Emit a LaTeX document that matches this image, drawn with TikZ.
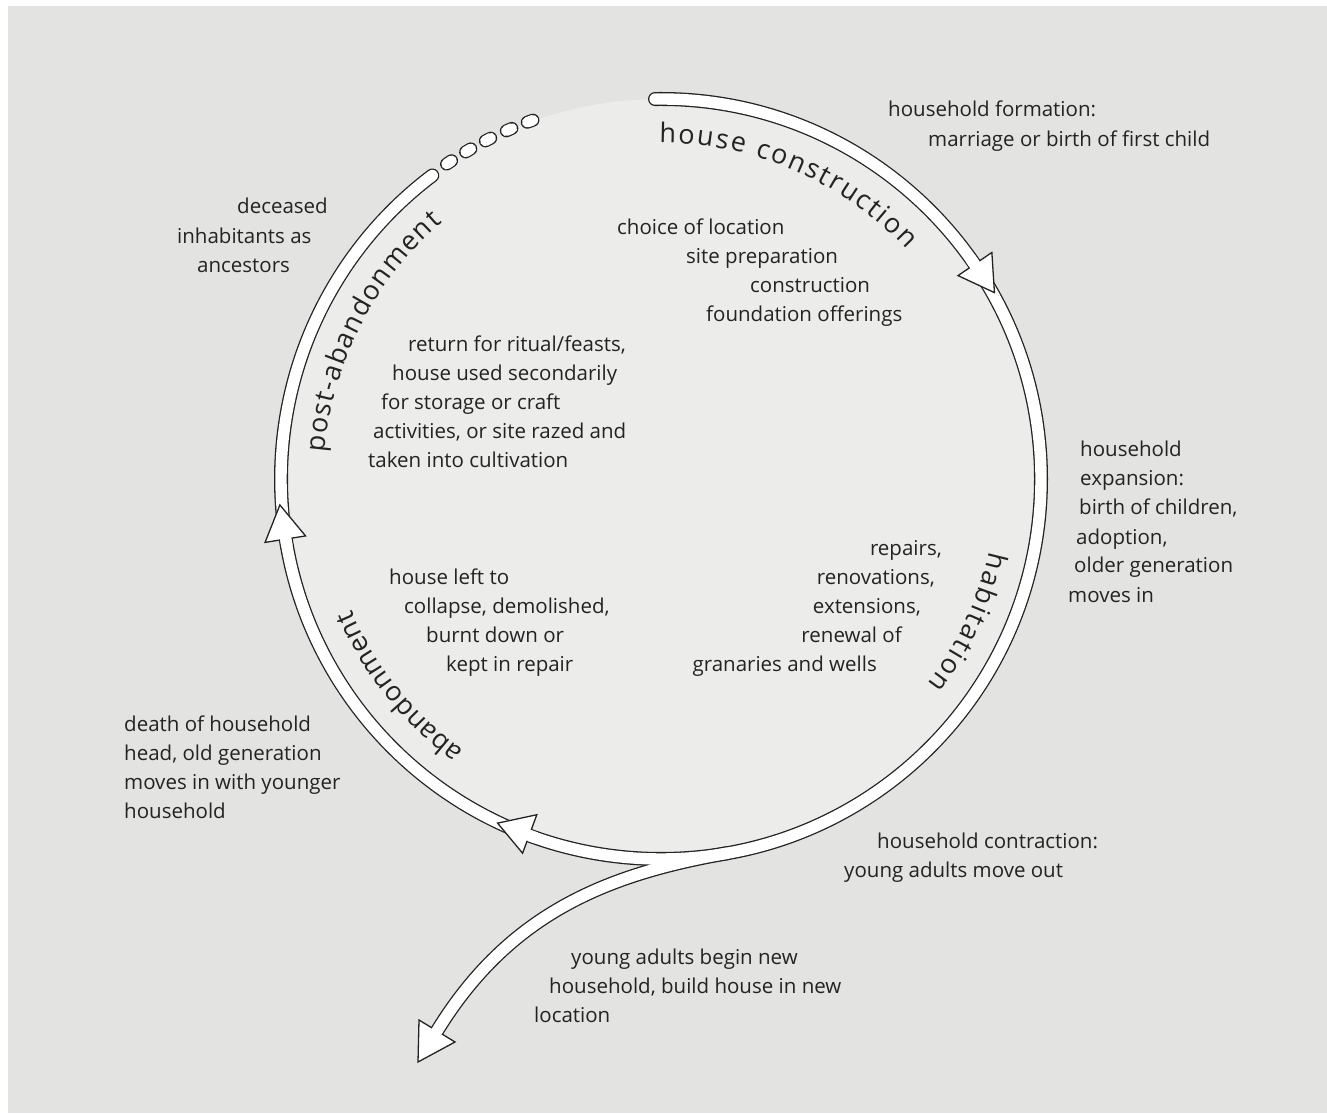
\documentclass[tikz,border=0pt]{standalone}
\usepackage{fontspec}
\setmainfont{Open Sans}
\usetikzlibrary{decorations.text}
\definecolor{bgc}{RGB}{227,227,225}
\definecolor{discc}{RGB}{236,236,235}
\definecolor{inkc}{RGB}{35,35,35}
\newcommand{\curvefont}{\fontsize{27}{27}\selectfont}
\begin{document}
\begin{tikzpicture}[x=1pt,y=1pt,
  lbl/.style={font=\fontsize{20.5}{24}\selectfont, inner sep=0pt, anchor=base west, text=inkc},
  lblr/.style={lbl, anchor=base east},
  bandout/.style={draw=inkc, line width=14pt, line cap=round},
  bandin/.style={draw=white, line width=11.4pt, line cap=round},
  bandpatch/.style={draw=white, line width=11.4pt, line cap=butt},
  headtri/.style={fill=white, draw=inkc, line width=1.3pt, line join=miter},
  dotout/.style={draw=inkc, line width=13pt, line cap=round},
  dotin/.style={draw=white, line width=10.6pt, line cap=round}
]
\useasboundingbox (0,0) rectangle (1327,1113);
\fill[bgc] (8,0) rectangle (1327,1107);

\begin{scope}[shift={(661,634)}]
  \fill[discc] (0,0) circle[radius=380];
  \coordinate (ringstart) at (90.9:380);
  \coordinate (tailstart) at (280:380);
  \coordinate (tailc1) at (-52,-395);
  \coordinate (tailc2) at (-151,-433);
  \coordinate (tailend) at (-224,-552);
  % outlines
  \path[bandout] (ringstart) arc[start angle=90.9, end angle=-233, radius=380];
  \path[bandout] (tailstart) .. controls (tailc1) and (tailc2) .. (tailend);
  % inner white of ring
  \path[bandin] (ringstart) arc[start angle=90.9, end angle=-233, radius=380];
  % dots
  \foreach \a in {123.8,120.4,117.0,113.5,110.1}{
    \begin{scope}[rotate=\a]
      \path[dotout] (0.45:381) arc[start angle=0.45, end angle=-0.45, radius=381];
      \path[dotin] (0.45:381) arc[start angle=0.45, end angle=-0.45, radius=381];
    \end{scope}
  }
  % arrowheads on ring
  \path[headtri] (29.2:382) -- (34.4:401) -- (34.4:360) -- cycle;
  \path[bandpatch] (35.5:380) arc[start angle=35.5, end angle=33.2, radius=380];
  \path[headtri] (-176.1:382) -- (-170.9:401) -- (-170.9:360) -- cycle;
  \path[bandpatch] (-169.8:380) arc[start angle=-169.8, end angle=-172.2, radius=380];
  \path[headtri] (-115.4:381) -- (-110.3:399) -- (-110.3:358) -- cycle;
  \path[bandpatch] (-109.2:380) arc[start angle=-109.2, end angle=-111.6, radius=380];
  % tail arrowhead
  \path[headtri] (-243,-583) -- (-242,-541) -- (-206,-563) -- cycle;
  \path[bandin] (tailstart) .. controls (tailc1) and (tailc2) .. (tailend);

  % curved labels
  \path[decorate, decoration={text along path, text color=inkc,
      text={|\curvefont|house construction}, text align={fit to path}}]
    (90.3:336) arc[start angle=90.3, end angle=43, radius=336];
  \path[decorate, decoration={text along path, text color=inkc,
      text={|\curvefont|habitation}, text align={fit to path}}]
    (-12.4:336) arc[start angle=-12.4, end angle=-37.6, radius=336];
  \path[decorate, decoration={text along path, text color=inkc,
      text={|\curvefont|post-abandonment}, text align={fit to path}}]
    (175.5:337) arc[start angle=175.5, end angle=130.5, radius=337];
  \path[decorate, decoration={text along path, text color=inkc,
      text={|\curvefont|abandonment}, text align={fit to path}}]
    (234:336) arc[start angle=234, end angle=203, radius=336];
\end{scope}

% top right
\node[lbl] (hf1) at (888,996) {household formation:};
\node[lbl] (hf2) at (928,966) {marriage or birth of first child};
% inside top
\node[lbl] (hc1) at (617,878) {choice of location};
\node[lbl] (hc2) at (686,849) {site preparation};
\node[lbl] (hc3) at (750,820) {construction};
\node[lbl] (hc4) at (706,791) {foundation offerings};
% left top
\node[lbl] (da1) at (237,899) {deceased};
\node[lbl] (da2) at (177,869) {inhabitants as};
\node[lbl] (da3) at (197,840) {ancestors};
% inside left
\node[lbl] (pa1) at (408,761) {return for ritual/feasts,};
\node[lbl] (pa2) at (392,732) {house used secondarily};
\node[lbl] (pa3) at (381,703) {for storage or craft};
\node[lbl] (pa4) at (373,674) {activities, or site razed and};
\node[lbl] (pa5) at (368,645) {taken into cultivation};
% right
\node[lbl] (he1) at (1080,656) {household};
\node[lbl] (he2) at (1080,627) {expansion:};
\node[lbl] (he3) at (1079,598) {birth of children,};
\node[lbl] (he4) at (1076,568) {adoption,};
\node[lbl] (he5) at (1074,540) {older generation};
\node[lbl] (he6) at (1068,510) {moves in};
% inside lower left
\node[lbl] (ab1) at (389,528) {house left to};
\node[lbl] (ab2) at (404,499) {collapse, demolished,};
\node[lbl] (ab3) at (426,470) {burnt down or};
\node[lbl] (ab4) at (446,441) {kept in repair};
% inside lower right
\node[lblr] (hb1) at (942,557) {repairs,};
\node[lblr] (hb2) at (935,528) {renovations,};
\node[lblr] (hb3) at (921,499) {extensions,};
\node[lblr] (hb4) at (902,470) {renewal of};
\node[lblr] (hb5) at (877,441) {granaries and wells};
% left lower
\node[lbl] (dh1) at (124,381) {death of household};
\node[lbl] (dh2) at (124,352) {head, old generation};
\node[lbl] (dh3) at (124,323) {moves in with younger};
\node[lbl] (dh4) at (124,294) {household};
% bottom right
\node[lbl] (ct1) at (877,264) {household contraction:};
\node[lbl] (ct2) at (844,235) {young adults move out};
% bottom
\node[lbl] (nh1) at (571,148) {young adults begin new};
\node[lbl] (nh2) at (549,119) {household, build house in new};
\node[lbl] (nh3) at (534,90) {location};
\end{tikzpicture}
\end{document}
